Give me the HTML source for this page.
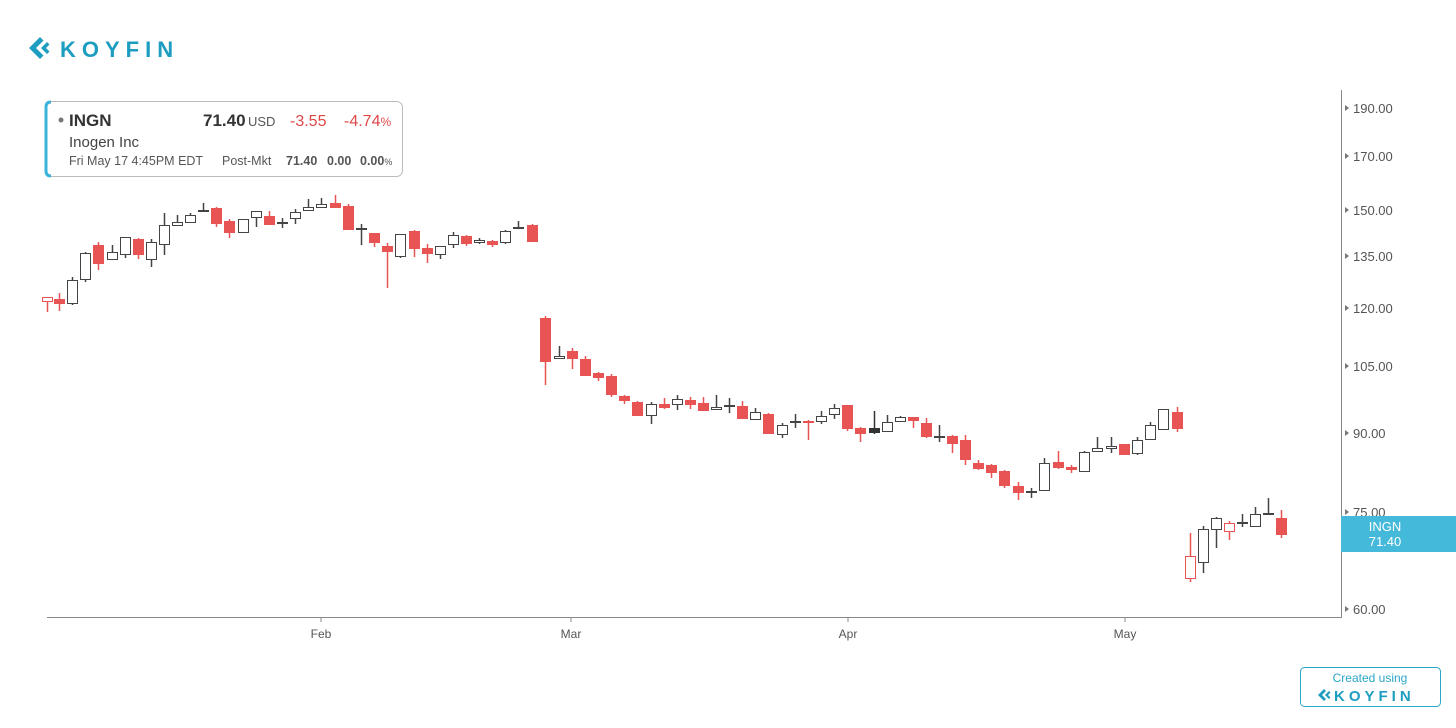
<!DOCTYPE html>
<html><head><meta charset="utf-8"><style>
body{margin:0;background:#fff;font-family:"Liberation Sans",sans-serif}
#w{position:relative;width:1456px;height:728px;overflow:hidden}
</style></head><body><div id="w">
<svg id="s" width="1456" height="728" xmlns="http://www.w3.org/2000/svg" font-family="Liberation Sans, sans-serif">
<g fill="#1d9dc0">
<path d="M40 37 L29 48 L40 59 L43.5 55.5 L36 48 L43.5 40.5 Z"/><path d="M47 42 L41 48 L47 54 L49.5 51.5 L46 48 L49.5 44.5 Z"/>
</g>
<text x="60" y="57" font-size="22" font-weight="bold" fill="#1d9dc0" letter-spacing="6">KOYFIN</text>
<rect x="45.5" y="101.5" width="357" height="75" rx="6" fill="#fff" stroke="#bbb"/>
<path d="M51 102 Q46 102 46 107 L46 171 Q46 176 51 176" fill="none" stroke="#3ab4d8" stroke-width="3"/>
<circle cx="61" cy="120" r="2.5" fill="#777"/>
<text x="69" y="126" font-size="17" font-weight="bold" fill="#333">INGN</text>
<text x="203" y="126" font-size="17" font-weight="bold" fill="#333">71.40</text>
<text x="248" y="126" font-size="13" fill="#555">USD</text>
<text x="290" y="126" font-size="16" fill="#e04848">-3.55</text>
<text x="344" y="126" font-size="16" fill="#e04848">-4.74<tspan font-size="12">%</tspan></text>
<text x="69" y="147" font-size="15" fill="#444">Inogen Inc</text>
<text x="69" y="165" font-size="12.5" fill="#555">Fri May 17 4:45PM EDT</text>
<text x="222" y="165" font-size="12.5" fill="#555">Post-Mkt</text>
<text x="286" y="165" font-size="12.5" font-weight="bold" fill="#555">71.40</text>
<text x="327" y="165" font-size="12.5" font-weight="bold" fill="#555">0.00</text>
<text x="360" y="165" font-size="12.5" font-weight="bold" fill="#555">0.00<tspan font-size="9" font-weight="normal">%</tspan></text>
<line x1="47" y1="617.5" x2="1341" y2="617.5" stroke="#888"/>
<line x1="1341.5" y1="90" x2="1341.5" y2="618" stroke="#888"/>
<g id="yl" font-size="13" fill="#555"></g>
<g font-size="12" fill="#555" text-anchor="middle">
<text x="321" y="638">Feb</text><text x="571" y="638">Mar</text><text x="848" y="638">Apr</text><text x="1125" y="638">May</text>
</g>
<g stroke="#888"><line x1="321" y1="617" x2="321" y2="622"/><line x1="571" y1="617" x2="571" y2="622"/><line x1="848" y1="617" x2="848" y2="622"/><line x1="1125" y1="617" x2="1125" y2="622"/></g>
<g id="c"></g>
<rect x="1341" y="516" width="115" height="36" fill="#45b9da"/>
<text x="1385" y="531" font-size="13" fill="#fff" text-anchor="middle">INGN</text>
<text x="1385" y="546" font-size="13" fill="#fff" text-anchor="middle">71.40</text>
<rect x="1300.5" y="667.5" width="140" height="39" rx="4" fill="#fff" stroke="#2aa6c8"/>
<text x="1370" y="682" font-size="12" fill="#2aa6c8" text-anchor="middle">Created using</text>
<g fill="#1d9dc0"><path d="M1324 689 L1318 695 L1324 701 L1326 699 L1322 695 L1326 691 Z"/><path d="M1329 691 L1325 695 L1329 699 L1330.5 697.5 L1328 695 L1330.5 692.5 Z"/></g>
<text x="1334" y="701" font-size="15" font-weight="bold" fill="#1d9dc0" letter-spacing="4">KOYFIN</text>
</svg>
<script>
var ns="http://www.w3.org/2000/svg";
function el(p,t,a){var e=document.createElementNS(ns,t);for(var k in a)e.setAttribute(k,a[k]);p.appendChild(e);return e;}
var yl=document.getElementById('yl');
[[190,108],[170,156],[150,210],[135,256],[120,308],[105,366],[90,433],[75,512],[60,609]].forEach(function(v){
 el(yl,'path',{d:'M1345 '+(v[1]-3)+' L1349 '+v[1]+' L1345 '+(v[1]+3)+' Z',fill:'#777'});
 var t=el(yl,'text',{x:1353,y:v[1]+5});t.textContent=v[0].toFixed(2);
});
var D=[[47,298,297,301,312,'q'],[59,293,299,303,311,'r'],[72,277,280,303,305,'h'],[85,252,253,279,282,'h'],[98,242,245,263,270,'r'],[112,245,252,259,260,'h'],[125,237,237,254,258,'h'],[138,238,239,254,259,'r'],[151,239,242,259,267,'h'],[164,213,225,244,255,'h'],[177,215,222,225,226,'h'],[190,213,215,222,222,'h'],[203,203,210,211,212,'c'],[216,207,208,223,227,'r'],[229,219,221,232,238,'r'],[243,219,219,232,233,'h'],[256,211,211,217,227,'h'],[269,211,216,224,225,'r'],[282,218,222,223,228,'c'],[295,209,212,218,224,'h'],[308,199,207,210,210,'h'],[321,198,204,207,208,'h'],[335,195,203,207,207,'r'],[348,204,206,229,229,'r'],[361,224,228,229,245,'c'],[374,233,233,242,247,'r'],[387,243,246,251,288,'r'],[400,234,234,256,258,'h'],[414,230,231,248,257,'r'],[427,244,248,253,263,'r'],[440,246,246,254,259,'h'],[453,232,235,244,248,'h'],[466,235,236,243,246,'r'],[479,238,240,242,244,'h'],[492,240,241,244,247,'r'],[505,230,231,242,244,'h'],[518,221,227,228,229,'c'],[532,224,225,241,241,'r'],
[545,316,318,361,385,'r'],[559,346,356,358,358,'h'],[572,348,351,358,369,'r'],[585,356,359,375,375,'r'],[598,372,373,377,381,'r'],[611,374,376,394,397,'r'],[624,395,396,400,404,'r'],[637,401,402,415,416,'r'],[651,402,404,415,424,'h'],[664,398,404,407,409,'r'],[677,395,399,404,410,'h'],[690,397,400,404,409,'r'],[703,397,403,410,410,'r'],[716,395,407,409,409,'h'],[729,398,405,406,413,'c'],[742,401,406,418,419,'r'],[755,408,412,419,420,'h'],[768,413,414,433,434,'r'],[782,423,425,434,438,'h'],[795,414,421,422,428,'c'],[808,420,421,422,440,'r'],[821,411,416,421,424,'h'],[834,404,408,414,419,'h'],[847,405,405,428,431,'r'],[860,427,428,433,442,'r'],[874,411,428,432,434,'d'],[887,415,422,431,431,'h'],[900,416,417,421,422,'h'],[913,417,417,420,428,'r'],[926,418,423,436,438,'r'],[939,425,436,437,442,'c'],[952,435,436,443,453,'r'],[965,435,440,459,465,'r'],[978,460,463,468,470,'r'],[991,464,465,472,478,'r'],[1004,470,471,485,488,'r'],[1018,482,486,492,500,'r'],[1031,488,491,492,498,'c'],
[1044,458,463,490,490,'h'],[1058,451,462,467,469,'r'],[1071,465,467,469,473,'r'],[1084,451,452,471,471,'h'],[1097,437,448,451,452,'h'],[1111,437,446,448,453,'h'],[1124,444,444,454,454,'r'],[1137,437,440,453,455,'h'],[1150,422,425,439,439,'h'],[1163,409,409,429,430,'h'],[1177,407,412,428,432,'r'],
[1190,533,556,578,582,'q'],[1203,526,529,562,573,'h'],[1216,517,518,529,548,'h'],[1229,521,523,531,540,'q'],[1242,514,522,523,527,'c'],[1255,507,514,526,527,'h'],[1268,498,513,514,515,'c'],[1281,510,518,534,538,'r']];
var g=document.getElementById('c');
D.forEach(function(d){
 var x=d[0],t=d[5];
 var col=(t=='r'||t=='q')?'#e85454':(t=='d'?'#333':'#444');
 el(g,'line',{x1:x+0.5,y1:d[1],x2:x+0.5,y2:d[4],stroke:col,'stroke-width':1.5});
 var h=Math.max(1,d[3]-d[2]);
 var fill=(t=='r')?'#e85454':(t=='d'?'#333':'#fff');
 el(g,'rect',{x:x-4.5,y:d[2]+0.5,width:10,height:h,fill:fill,stroke:(t=='r'?'#e85454':col),'stroke-width':1});
});
</script>
</div></body></html>
